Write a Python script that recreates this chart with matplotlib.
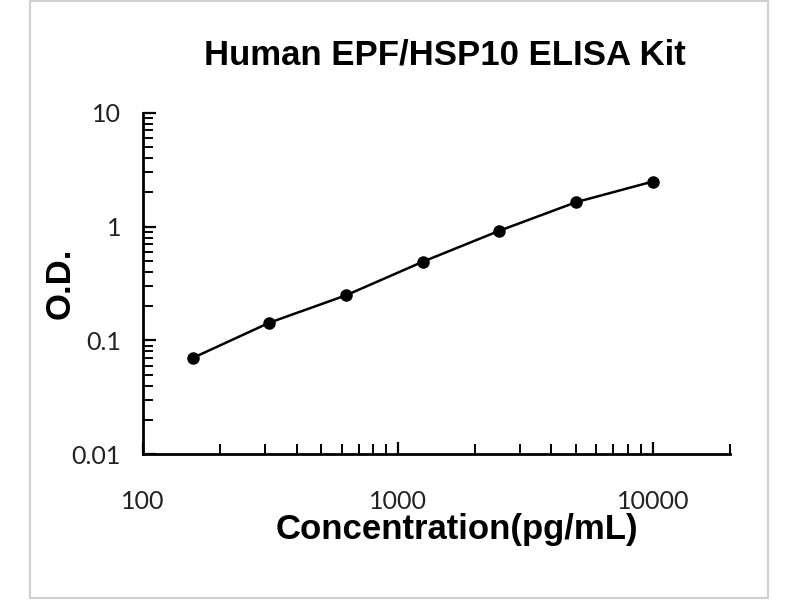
import numpy as np
import matplotlib
matplotlib.use("Agg")
import matplotlib.pyplot as plt
from matplotlib.patches import Rectangle
from matplotlib.ticker import LogLocator, FixedLocator, NullFormatter

# standard curve values
conc = [156.25, 312.5, 625, 1250, 2500, 5000, 10000]
od = [0.070, 0.143, 0.249, 0.491, 0.92, 1.64, 2.49]

title = "Human EPF/HSP10 ELISA Kit"
xlabel = "Concentration(pg/mL)"
ylabel = "O.D."
xticks = [100, 1000, 10000]
xtick_labels = ["100", "1000", "10000"]
yticks = [0.01, 0.1, 1, 10]
ytick_labels = ["0.01", "0.1", "1", "10"]

fig = plt.figure(figsize=(8, 6), dpi=100)
ax = fig.add_axes([0.179, 0.243, 0.733, 0.569])

ax.plot(conc, od, color="black", lw=1.8, marker="o", ms=8, zorder=3)

ax.set_xscale("log")
ax.set_yscale("log")
ax.set_xlim(100, 20000)
ax.set_ylim(0.01, 10)

ax.xaxis.set_major_locator(FixedLocator(xticks))
ax.set_xticklabels(xtick_labels)
ax.yaxis.set_major_locator(FixedLocator(yticks))
ax.set_yticklabels(ytick_labels)
ax.xaxis.set_minor_locator(LogLocator(base=10, subs=np.arange(2, 10), numticks=20))
ax.yaxis.set_minor_locator(LogLocator(base=10, subs=np.arange(2, 10), numticks=20))
ax.xaxis.set_minor_formatter(NullFormatter())
ax.yaxis.set_minor_formatter(NullFormatter())

tick_font = "Lato"
for lab in ax.get_xticklabels() + ax.get_yticklabels():
    lab.set_family(tick_font)
    lab.set_fontsize(18)
    lab.set_color("#222222")

ax.tick_params(axis="both", which="major", direction="in", length=9, width=1.6, color="black")
ax.tick_params(axis="both", which="minor", direction="in", length=7, width=1.4, color="black")
ax.tick_params(axis="x", which="major", pad=26)
ax.tick_params(axis="y", which="major", pad=16)

for side in ["top", "right"]:
    ax.spines[side].set_visible(False)
for side in ["left", "bottom"]:
    ax.spines[side].set_linewidth(2)

ax.set_xlabel(xlabel, fontsize=25, fontweight="bold", family="Liberation Sans")
ax.xaxis.set_label_coords(0.535, -0.222)
ax.xaxis.label.set_va("center")
ax.set_ylabel(ylabel, fontsize=25, fontweight="bold", family="Liberation Sans")
ax.yaxis.set_label_coords(-0.141, 0.5)
ax.yaxis.label.set_va("center")
fig.text(0.556, 0.908, title, fontsize=25, fontweight="bold", family="Liberation Sans",
         ha="center", va="center")

# light grey frame around the whole picture
fig.patches.append(Rectangle((0.038, 0.003), 0.922, 0.995, transform=fig.transFigure,
                             fill=False, edgecolor="#d0d0d0", lw=1.5))

fig.savefig("out.png", dpi=100)
